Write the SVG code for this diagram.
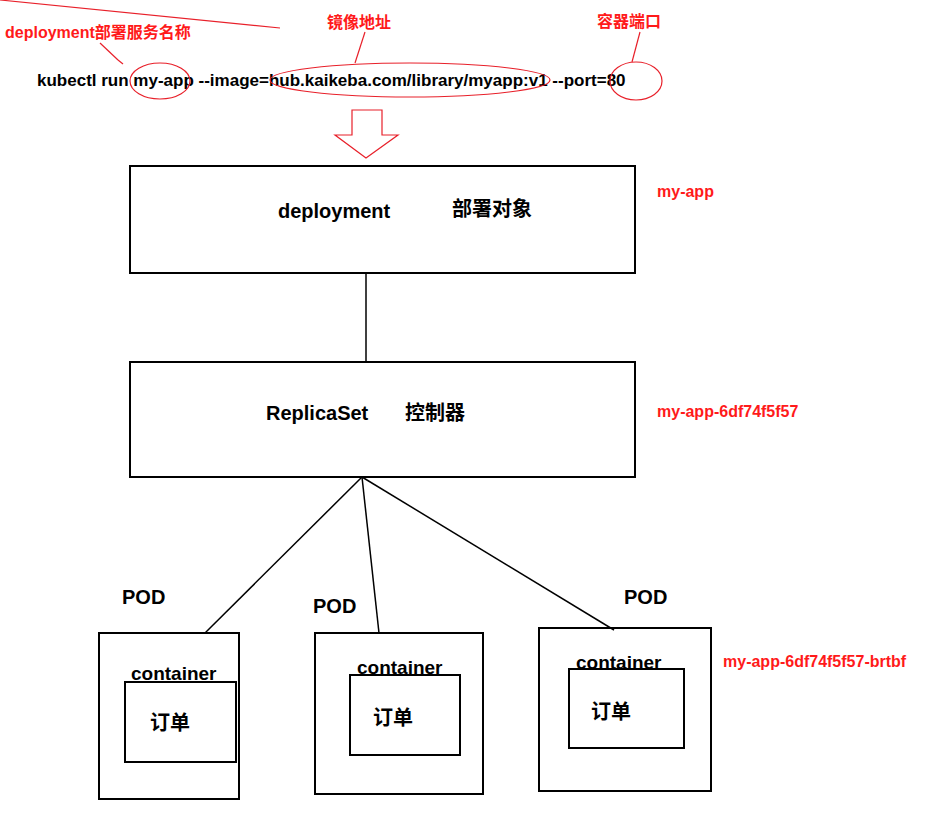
<svg xmlns="http://www.w3.org/2000/svg" width="933" height="833" viewBox="0 0 933 833">
<style>
.b{fill:none;stroke:#000;stroke-width:2}
.r{fill:none;stroke:#e8202a;stroke-width:1.2}
.t{font-family:"Liberation Sans","Noto Sans CJK SC",sans-serif;font-weight:bold;fill:#000}
.rt{font-family:"Liberation Sans","Noto Sans CJK SC",sans-serif;font-weight:bold;fill:#ff1a1a}
.l{stroke:#000;stroke-width:1.5}
</style>
<rect width="933" height="833" fill="#fff"/>
<g id="command">
<text class="t" x="37" y="86" font-size="17">kubectl run my-app --image=hub.kaikeba.com/library/myapp:v1 --port=80</text>
<text class="rt" x="5" y="38" font-size="16">deployment部署服务名称</text>
<text class="rt" x="327" y="28" font-size="16">镜像地址</text>
<text class="rt" x="597" y="27" font-size="16">容器端口</text>
<ellipse class="r" cx="160" cy="81" rx="30" ry="18"/>
<ellipse class="r" cx="410" cy="80" rx="140" ry="17"/>
<ellipse class="r" cx="636" cy="81" rx="26" ry="19"/>
<line class="r" x1="100" y1="43" x2="118" y2="60"/>
<line class="r" x1="118" y1="60" x2="123" y2="64"/>
<line class="r" x1="280" y1="28" x2="0" y2="0" stroke="none"/>
<line class="r" x1="365" y1="32" x2="355" y2="63"/>
<line class="r" x1="640" y1="32" x2="632" y2="62"/>
<polygon points="352,110 382,110 382,135 398,135 366,158 335,135 352,135" fill="none" stroke="#e8202a" stroke-width="1.2"/>
</g>
<g id="deployment">
<rect class="b" x="130" y="166" width="505" height="107"/>
<text class="t" x="278" y="218" font-size="20">deployment</text>
<text class="t" x="452" y="216" font-size="20">部署对象</text>
<text class="rt" x="657" y="197" font-size="16">my-app</text>
</g>
<g id="replicaset">
<rect class="b" x="130" y="362" width="505" height="115"/>
<text class="t" x="266" y="420" font-size="20">ReplicaSet</text>
<text class="t" x="405" y="420" font-size="20">控制器</text>
<text class="rt" x="657" y="417" font-size="16">my-app-6df74f5f57</text>
</g>
<g id="pod1">
<text class="t" x="122" y="604" font-size="20">POD</text>
<rect class="b" x="99" y="633" width="140" height="166"/>
<text class="t" x="131" y="680" font-size="19">container</text>
<rect class="b" x="125" y="682" width="111" height="80"/>
<text class="t" x="150" y="730" font-size="20">订单</text>
</g>
<g id="pod2">
<text class="t" x="313" y="613" font-size="20">POD</text>
<rect class="b" x="315" y="633" width="168" height="161"/>
<text class="t" x="357" y="674" font-size="19">container</text>
<rect class="b" x="350" y="675" width="110" height="80"/>
<text class="t" x="373" y="725" font-size="20">订单</text>
</g>
<g id="pod3">
<text class="t" x="624" y="604" font-size="20">POD</text>
<rect class="b" x="539" y="628" width="172" height="163"/>
<text class="t" x="576" y="669" font-size="19">container</text>
<rect class="b" x="569" y="669" width="115" height="79"/>
<text class="t" x="591" y="719" font-size="20">订单</text>
<text class="rt" x="723" y="667" font-size="16">my-app-6df74f5f57-brtbf</text>
</g>
<g id="connectors">
<line class="l" x1="366" y1="273" x2="366" y2="362"/>
<line class="l" x1="362" y1="477" x2="205" y2="633"/>
<line class="l" x1="362" y1="477" x2="379" y2="633"/>
<line class="l" x1="362" y1="477" x2="614" y2="630"/>
</g>
</svg>
